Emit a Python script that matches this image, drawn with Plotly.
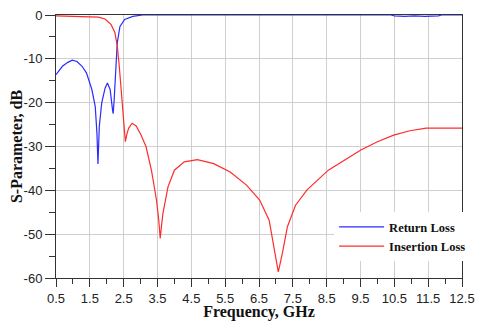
import plotly.graph_objects as go

# Return Loss (S11)
rl_freq = [0.5, 0.69, 0.85, 0.98, 1.12, 1.27, 1.40, 1.47, 1.56, 1.66, 1.71, 1.74, 1.78, 1.85,
           1.95, 2.02, 2.10, 2.17, 2.19, 2.22, 2.26, 2.31, 2.39, 2.53, 2.77, 3.06, 4.0, 6.0,
           8.0, 10.4, 10.5, 10.8, 11.1, 11.4, 11.8, 11.9, 12.5]
rl_db = [-13.6, -11.7, -10.8, -10.3, -10.6, -11.7, -13.2, -14.8, -17.0, -20.9, -27.0, -34.0,
         -25.4, -20.1, -16.7, -15.5, -17.0, -21.6, -22.5, -19.3, -11.7, -6.4, -2.6, -1.0,
         -0.3, 0.0, 0.0, 0.0, 0.0, 0.0, -0.2, -0.3, -0.2, -0.3, -0.2, 0.0, 0.0]

# Insertion Loss (S21)
il_freq = [0.5, 1.0, 1.47, 1.75, 1.95, 2.13, 2.24, 2.31, 2.37, 2.41, 2.45, 2.49, 2.55, 2.60,
           2.65, 2.75, 2.87, 3.01, 3.16, 3.32, 3.47, 3.54, 3.58, 3.62, 3.66, 3.81, 4.0, 4.29,
           4.68, 5.16, 5.65, 6.13, 6.52, 6.80, 6.95, 7.07, 7.19, 7.34, 7.58, 7.92, 8.55, 9.03,
           9.51, 10.0, 10.48, 10.96, 11.44, 11.93, 12.5]
il_db = [-0.2, -0.3, -0.3, -0.5, -0.9, -2.2, -4.0, -7.0, -11.7, -15.5, -19.3, -24.6, -28.9,
         -27.0, -25.8, -24.7, -25.3, -27.3, -30.0, -35.4, -42.2, -47.0, -51.0, -48.0, -45.3,
         -39.2, -35.4, -33.5, -33.0, -33.9, -35.8, -38.8, -42.2, -46.8, -52.9, -58.6, -54.4,
         -48.3, -43.4, -39.9, -35.4, -33.1, -30.8, -28.9, -27.4, -26.4, -25.8, -25.8, -25.8]

x_ticks = [0.5 + i for i in range(13)]
y_ticks = [0, -10, -20, -30, -40, -50, -60]
y_labels = ["0", "-10", "-20", "-30", "-40", "-50", "-60"]

fig = go.Figure()
fig.add_trace(go.Scatter(x=rl_freq, y=rl_db, name="<b>Return Loss</b>", mode="lines",
                         line=dict(color="#2b2bff", width=1.2)))
fig.add_trace(go.Scatter(x=il_freq, y=il_db, name="<b>Insertion Loss</b>", mode="lines",
                         line=dict(color="#ff2b2b", width=1.2)))

tick_font = dict(family="Liberation Sans, Arial", size=13, color="#222")
title_font = dict(family="Liberation Serif, Times New Roman", size=16, color="#111")

fig.update_xaxes(
    range=[0.5, 12.5], tickvals=x_ticks, ticktext=[f"{v:g}" for v in x_ticks],
    ticks="outside", ticklen=8, tickcolor="#333", tickfont=tick_font,
    ticklabeloverflow="allow",
    showgrid=True, gridcolor="#cfcfcf", gridwidth=1,
    showline=True, linecolor="#333", linewidth=1, mirror=True, zeroline=False,
    minor=dict(tickvals=[float(v) for v in range(1, 13)], ticks="outside", ticklen=5,
               tickcolor="#333", showgrid=False),
    title=dict(text="<b>Frequency, GHz</b>", font=title_font, standoff=6),
    automargin=False, layer="below traces",
)
fig.update_yaxes(
    range=[-60, 0], tickvals=y_ticks, ticktext=y_labels, ticks="outside", ticklen=10,
    tickcolor="#333", tickfont=tick_font, ticklabeloverflow="allow",
    showgrid=True, gridcolor="#cfcfcf", gridwidth=1,
    showline=True, linecolor="#333", linewidth=1, mirror=True, zeroline=False,
    minor=dict(tickvals=[-5, -15, -25, -35, -45, -55], ticks="outside", ticklen=6,
               tickcolor="#333", showgrid=False),
    title=dict(text="<b>S-Parameter, dB</b>", font=title_font, standoff=4),
    automargin=False, layer="below traces",
)

# page body adds 8px on every side, so the figure is sized to fit the window inside it
fig.update_layout(
    width=467, height=313,
    margin=dict(l=48, r=4, t=7, b=43),
    plot_bgcolor="white", paper_bgcolor="white",
    legend=dict(x=0.685, y=0.25, xanchor="left", yanchor="top",
                bgcolor="white", borderwidth=0, itemwidth=45,
                font=dict(family="Liberation Serif, Times New Roman", size=12.5, color="#111"),
                tracegroupgap=0),
    showlegend=True,
)

fig.write_html("out.html")
